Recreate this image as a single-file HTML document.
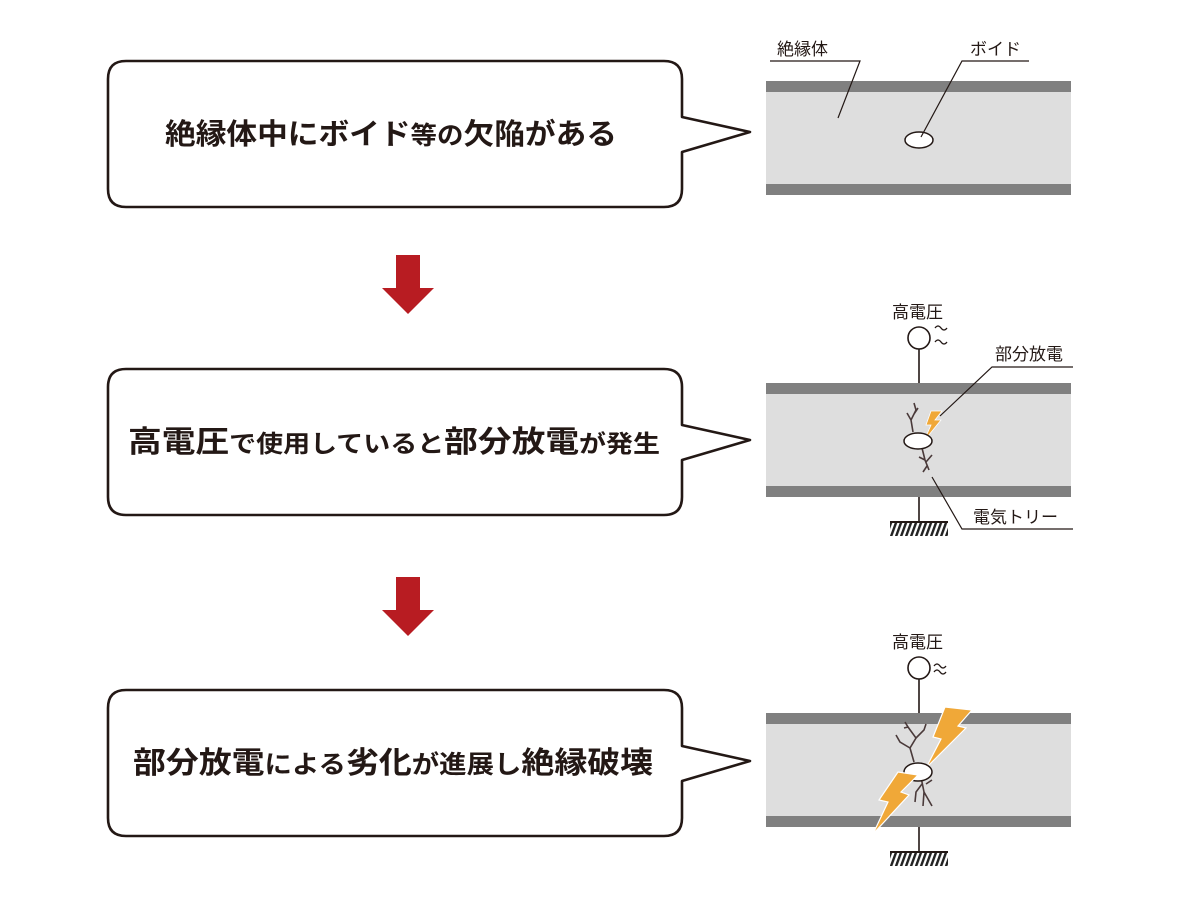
<!DOCTYPE html>
<html><head><meta charset="utf-8"><style>
html,body{margin:0;padding:0;background:#fff;}
svg{display:block;}
text{font-family:"Liberation Sans","Noto Sans CJK JP",sans-serif;}
</style></head><body>
<svg width="1200" height="906" viewBox="0 0 1200 906" xmlns="http://www.w3.org/2000/svg">
<defs>
<pattern id="hatch" width="5" height="14" patternUnits="userSpaceOnUse" patternTransform="skewX(-20)">
<rect width="5" height="14" fill="#fff"/><rect width="2.6" height="14" fill="#222"/>
</pattern>
</defs>
<g fill="#fff" stroke="#231815" stroke-width="2.6" stroke-linejoin="round">
<path d="M126,61 H664 Q682,61 682,79 V117 L750,132 L682,152 V189 Q682,207 664,207 H126 Q108,207 108,189 V79 Q108,61 126,61 Z"/>
<path d="M126,369 H664 Q682,369 682,387 V425 L750,440 L682,460 V497 Q682,515 664,515 H126 Q108,515 108,497 V387 Q108,369 126,369 Z"/>
<path d="M126,690 H664 Q682,690 682,708 V746 L750,761 L682,781 V818 Q682,836 664,836 H126 Q108,836 108,818 V708 Q108,690 126,690 Z"/>
</g>
<g fill="#231815" font-weight="bold">
<text x="165" y="144" textLength="452" lengthAdjust="spacingAndGlyphs"><tspan font-size="29">絶縁体中にボイド</tspan><tspan font-size="25">等の</tspan><tspan font-size="29">欠陥がある</tspan></text>
<text x="128" y="452" textLength="532" lengthAdjust="spacingAndGlyphs"><tspan font-size="30">高電圧</tspan><tspan font-size="24">で使用していると</tspan><tspan font-size="30">部分放電</tspan><tspan font-size="24">が発生</tspan></text>
<text x="133" y="773" textLength="520" lengthAdjust="spacingAndGlyphs"><tspan font-size="30">部分放電</tspan><tspan font-size="25">による</tspan><tspan font-size="30">劣化</tspan><tspan font-size="25">が進展し</tspan><tspan font-size="30">絶縁破壊</tspan></text>
</g>
<g fill="#b81c22">
<path d="M396,255 H420 V288 H434 L408,314 L382,288 H396 Z"/>
<path d="M396,577 H420 V610 H434 L408,636 L382,610 H396 Z"/>
</g>
<!-- panel 1 -->
<rect x="766" y="81" width="305" height="114" fill="#dedede"/>
<rect x="766" y="81" width="305" height="11" fill="#808080"/>
<rect x="766" y="184" width="305" height="11" fill="#808080"/>
<ellipse cx="919" cy="140" rx="14" ry="8" fill="#fff" stroke="#231815" stroke-width="1.5"/>
<g stroke="#231815" stroke-width="1.2" fill="none">
<path d="M770,61 H860 L838,118"/>
<path d="M1029,61 H962 L921,137"/>
</g>
<g font-size="17" fill="#231815">
<text x="777" y="55">絶縁体</text>
<text x="970" y="55">ボイド</text>
</g>
<!-- panel 2 -->
<rect x="766" y="383" width="305" height="114" fill="#dedede"/>
<rect x="766" y="383" width="305" height="11" fill="#808080"/>
<rect x="766" y="486" width="305" height="11" fill="#808080"/>
<g stroke="#231815" stroke-width="1.6" fill="none">
<circle cx="919" cy="338" r="11" fill="#fff"/>
<line x1="919" y1="349" x2="919" y2="383"/>
<line x1="919" y1="497" x2="919" y2="522"/>
<path d="M935,328 q3,-4 6,0 t6,0 M935,342 q3,-4 6,0 t6,0" stroke-width="1.3"/>
</g>
<rect x="890" y="522" width="58" height="14" fill="url(#hatch)"/>
<line x1="890" y1="522" x2="948" y2="522" stroke="#231815" stroke-width="2"/>
<g stroke="#4a3a3a" stroke-width="1.6" fill="none">
<path d="M913,432 L911,420 L916,410 L914,403 M911,420 L907,413 M914,414 L918,408"/>
<path d="M922,448 L925,460 L929,470 M925,460 L919,457 M926,462 L932,455 M927,466 L923,472"/>
</g>
<path d="M931,411 L942,411 L935,420 L941,420 L924,441 L931,425 L926,425 Z" fill="#f0a838" stroke="#fff" stroke-width="0.8"/>
<ellipse cx="918" cy="441" rx="14" ry="8" fill="#fff" stroke="#231815" stroke-width="1.5"/>
<g stroke="#231815" stroke-width="1.2" fill="none">
<path d="M1073,367 H992 L940,416"/>
<path d="M932,477 L962,529 H1073"/>
</g>
<g font-size="17" fill="#231815">
<text x="892" y="318">高電圧</text>
<text x="995" y="360">部分放電</text>
<text x="973" y="523">電気トリー</text>
</g>
<!-- panel 3 -->
<rect x="766" y="713" width="305" height="114" fill="#dedede"/>
<rect x="766" y="713" width="305" height="11" fill="#808080"/>
<rect x="766" y="816" width="305" height="11" fill="#808080"/>
<g stroke="#231815" stroke-width="1.6" fill="none">
<circle cx="919" cy="668" r="11" fill="#fff"/>
<line x1="919" y1="679" x2="919" y2="713"/>
<line x1="919" y1="827" x2="919" y2="852"/>
<path d="M934,666 q3,-4 6,0 t6,0 M934,672 q3,-4 6,0 t6,0" stroke-width="1.3"/>
</g>
<rect x="890" y="852" width="58" height="14" fill="url(#hatch)"/>
<line x1="890" y1="852" x2="948" y2="852" stroke="#231815" stroke-width="2"/>
<g stroke="#4a3a3a" stroke-width="1.6" fill="none">
<path d="M914,762 L910,748 L916,738 L908,727 L905,722 M916,738 L924,730 L926,724 M910,748 L900,742 L896,735 M908,727 L904,728"/>
<path d="M921,777 L924,792 L923,806 M924,792 L932,806 M922,784 L916,792 L915,802 M926,784 L932,780"/>
</g>
<path d="M945,707 L972,710 L958,726 L966,728 L926,768 L941,739 L933,737 Z" fill="#f0a838" stroke="#fff" stroke-width="1.2"/>
<ellipse cx="918" cy="772" rx="14" ry="9" fill="#fff" stroke="#231815" stroke-width="1.5"/>
<path d="M898,772 L918,775 L901,792 L909,795 L873,834 L888,802 L879,800 Z" fill="#f0a838" stroke="#fff" stroke-width="1.2"/>
<g font-size="17" fill="#231815">
<text x="892" y="648">高電圧</text>
</g>
</svg>
</body></html>
